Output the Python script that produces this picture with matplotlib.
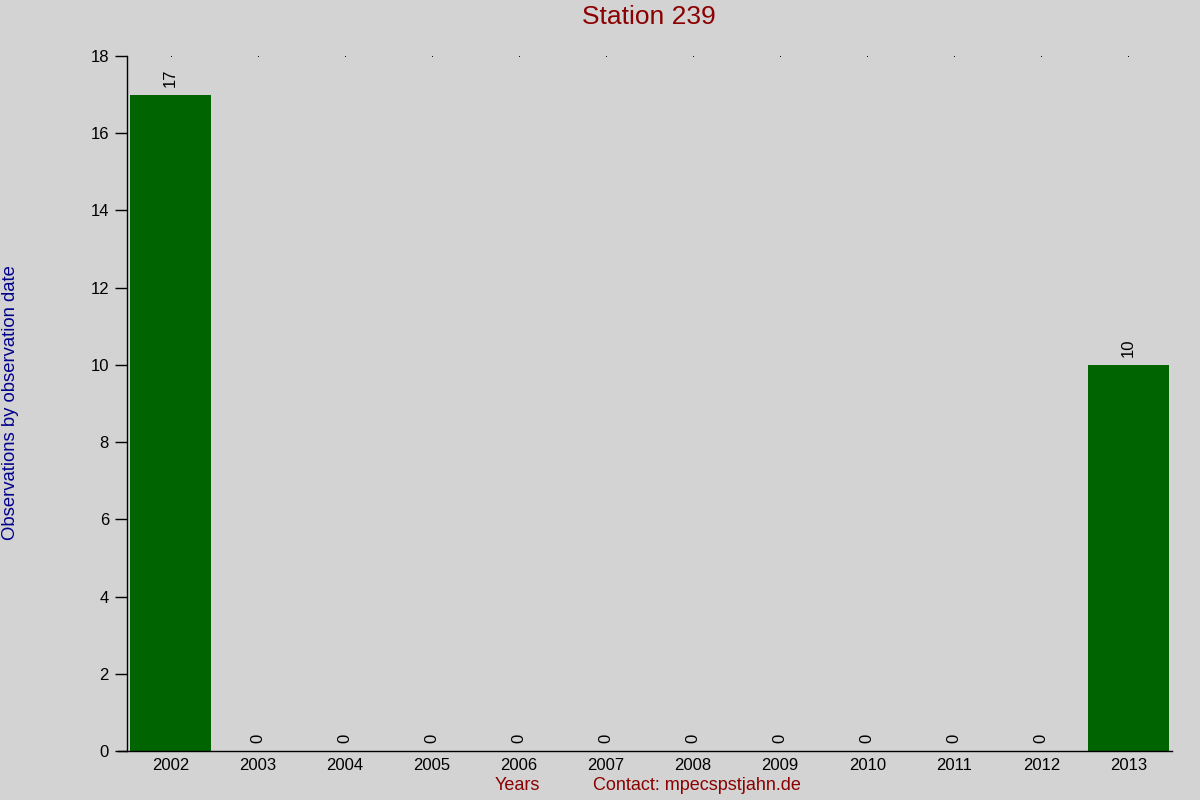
import matplotlib
matplotlib.use("Agg")
import matplotlib.pyplot as plt

plt.rcParams['font.family'] = ['Liberation Sans', 'DejaVu Sans']

years = ["2002", "2003", "2004", "2005", "2006", "2007", "2008", "2009", "2010", "2011", "2012", "2013"]
counts = [17, 0, 0, 0, 0, 0, 0, 0, 0, 0, 0, 10]
yticks = [0, 2, 4, 6, 8, 10, 12, 14, 16, 18]

bg = "#D3D3D3"
fig = plt.figure(figsize=(12, 8), dpi=100, facecolor=bg)
ax = fig.add_axes([127/1200, 1-751/800, (1172-127)/1200, (751-56)/800])
ax.set_facecolor(bg)

x = list(range(len(years)))
ax.bar(x, counts, width=0.92, color="#006400", zorder=2)
for xi, c in zip(x, counts):
    ax.text(xi, c + 0.2, str(c), rotation=90, ha="center", va="bottom",
            fontsize=12, color="black")
# small dots at top
ax.plot(x, [18]*len(x), linestyle="none", marker="s", markersize=0.6, color="black",
        markeredgewidth=0, clip_on=False)

ax.set_xlim(-0.5, len(years) - 0.5)
ax.set_ylim(0, 18)
ax.set_yticks(yticks)
ax.set_yticklabels([str(v) for v in yticks], fontsize=12)
ax.set_xticks(x)
ax.set_xticklabels(years, fontsize=12)
ax.tick_params(axis="x", length=0, pad=5)
ax.tick_params(axis="y", length=9, width=1, pad=4)

for s in ["top", "right"]:
    ax.spines[s].set_visible(False)
ax.spines["left"].set_linewidth(1)
ax.spines["bottom"].set_linewidth(1)
ax.spines["bottom"].set_bounds(-0.5 - 9/87, len(years) - 0.5)

fig.text(649/1200, 1-17/800, "Station 239", ha="center", va="center",
         fontsize=19, color="#8B0000")
fig.text(11/1200, 1-403/800, "Observations by observation date", rotation=90,
         ha="center", va="center", fontsize=13.3, color="#00008B")
fig.text(517/1200, 1-786/800, "Years", ha="center", va="center",
         fontsize=13, color="#8B0000")
fig.text(697/1200, 1-786/800, "Contact: mpecspstjahn.de", ha="center", va="center",
         fontsize=13, color="#8B0000")

fig.savefig("out.png", dpi=100, facecolor=bg)
